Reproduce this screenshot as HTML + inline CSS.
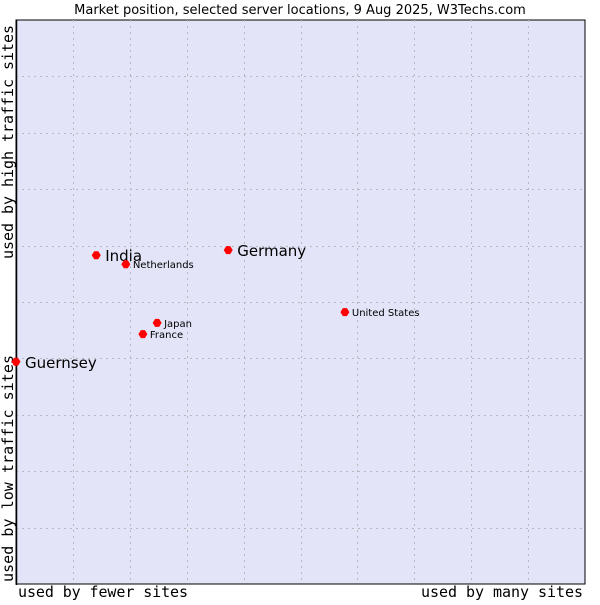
<!DOCTYPE html>
<html><head><meta charset="utf-8"><style>
html,body{margin:0;padding:0;background:#fff;}
svg text{font-family:"DejaVu Sans","Liberation Sans",sans-serif;}
.mono{font-family:"DejaVu Sans Mono","Liberation Mono",monospace !important;}
</style></head><body>
<svg id="chart" width="600" height="600" xmlns="http://www.w3.org/2000/svg">
<text x="300" y="14" text-anchor="middle" font-size="13" fill="#000">Market position, selected server locations, 9 Aug 2025, W3Techs.com</text>
<rect x="16" y="20" width="569" height="564" fill="#e3e4f8" stroke="#000" stroke-width="1"/>
<g id="grid"></g>
<line x1="16.5" y1="20" x2="16.5" y2="585" stroke="#000" stroke-width="1.5"/>
<text class="mono" x="18" y="597" font-size="15" textLength="170">used by fewer sites</text>
<text class="mono" x="421" y="597" font-size="15" textLength="162">used by many sites</text>
<text class="mono" transform="translate(13,582) rotate(-90)" font-size="15" textLength="227">used by low traffic sites</text>
<text class="mono" transform="translate(13,259) rotate(-90)" font-size="15" textLength="234">used by high traffic sites</text>
<g id="points"></g>
</svg>
<script>
const names = ["India","Netherlands","Germany","United States","Japan","France","Guernsey"];
const xValues = [14.1,19.3,37.3,57.8,24.8,22.3,0];
const yValues = [58.3,56.7,59.2,48.2,46.3,44.3,39.4];
const bigLabel = [true,false,true,false,false,false,true];

const X0=16,X1=585,Y0=584,Y1=20;
function sx(v){return X0+(X1-X0)*v/100;}
function sy(v){return Y0-(Y0-Y1)*v/100;}
const NS="http://www.w3.org/2000/svg";
const grid=document.getElementById('grid');
for(let i=1;i<10;i++){
  const gx=document.createElementNS(NS,'line');
  const x=Math.round(sx(i*10))+0.5;
  gx.setAttribute('x1',x);gx.setAttribute('x2',x);gx.setAttribute('y1',Y1);gx.setAttribute('y2',Y0);
  gx.setAttribute('stroke','#b8b8c0');gx.setAttribute('stroke-dasharray','2,4');
  
  
  grid.appendChild(gx);
  const gy=document.createElementNS(NS,'line');
  const y=Math.round(sy(i*10))+0.5;
  gy.setAttribute('x1',X0);gy.setAttribute('x2',X1);gy.setAttribute('y1',y);gy.setAttribute('y2',y);
  gy.setAttribute('stroke','#b8b8c0');gy.setAttribute('stroke-dasharray','2,4');
  
  
  grid.appendChild(gy);
}
const pts=document.getElementById('points');
names.forEach((n,i)=>{
  const x=sx(xValues[i]), y=sy(yValues[i]);
  const d=document.createElementNS(NS,'path');
  d.setAttribute('d',`M${x-4.5},${y} L${x-2},${y-4} L${x+2},${y-4} L${x+4.5},${y} L${x+2},${y+4} L${x-2},${y+4} Z`);
  d.setAttribute('fill','#f00');
  
  
  pts.appendChild(d);
  const t=document.createElementNS(NS,'text');
  t.setAttribute('x',x+(bigLabel[i]?9:7));
  t.setAttribute('y',y+(bigLabel[i]?6:4));
  t.setAttribute('font-size',bigLabel[i]?'15':'10');
  t.setAttribute('fill','#000');
  t.textContent=n;
  
  
  pts.appendChild(t);
});
</script>
</body></html>
